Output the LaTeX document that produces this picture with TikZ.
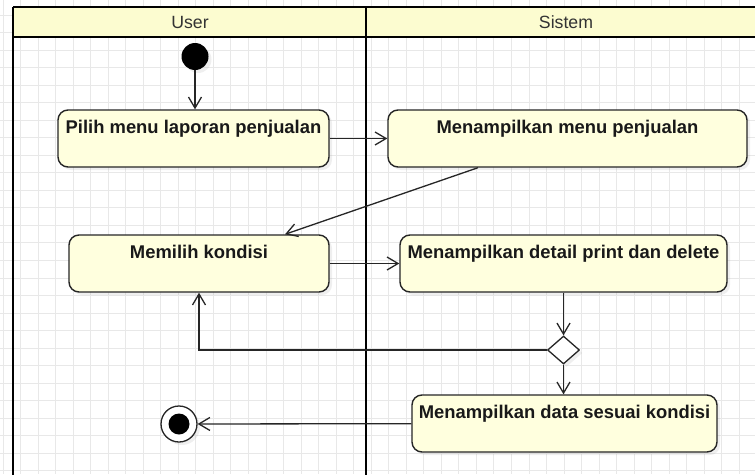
\documentclass[tikz,border=0pt]{standalone}
\usepackage{fontspec}
\setmainfont{Liberation Sans}
\usetikzlibrary{shapes.geometric,arrows.meta,shadows}
\definecolor{actfill}{RGB}{255,255,222}
\definecolor{lanefill}{RGB}{252,252,208}
\definecolor{lineclr}{RGB}{38,38,38}

\begin{document}
\begin{tikzpicture}[x=1pt, y=-1pt,
	gridline/.style={draw=black!9, line width=0.8pt},
	lane/.style={line width=2.8pt},
	lanetitle/.style={font=\fontsize{17.7}{20}\selectfont, text=black!80},
	act/.style={draw=lineclr, line width=1.4pt, fill=actfill, rounded corners=10pt, inner sep=0pt,
		text height=23.6pt, text depth=33.4pt, font=\fontsize{18.4}{20}\selectfont\bfseries, text=black!90,
		drop shadow={opacity=.12, shadow xshift=3pt, shadow yshift=-3pt}},
	flow/.style={draw=lineclr, line width=1.3pt, -{Straight Barb[length=11pt, width=13pt]}}]
	\path[use as bounding box, clip] (0,0) rectangle (755,474);
	\fill[white] (0,0) rectangle (755,474);
	\foreach \gx in {0,...,43} \draw[gridline] ({3+17.53*\gx},0) -- ({3+17.53*\gx},474);
	\foreach \gy in {0,...,27} \draw[gridline] (0,{15+17.53*\gy}) -- (755,{15+17.53*\gy});
	
	\fill[lanefill] (13,7) rectangle (770,37);
	\draw[lane] (13,7) -- (770,7);
	\draw[lane] (13,37) -- (770,37);
	\draw[lane] (13,7) -- (13,480);
	\draw[lane] (366,7) -- (366,480);
	\node[lanetitle] (user) at (190,22) {User};
	\node[lanetitle] (sistem) at (566,22) {Sistem};
	
	\node[circle, fill=black, minimum size=27pt, inner sep=0pt, drop shadow={opacity=.12, shadow xshift=3pt, shadow yshift=-3pt}] (start) at (195,56.5) {};
	\node[act, minimum width=271pt] (pilih) at (193.5,138.5) {Pilih menu laporan penjualan};
	\node[act, minimum width=359pt] (menu) at (567.5,138.5) {Menampilkan menu penjualan};
	\node[act, minimum width=260pt] (kondisi) at (199,263.5) {Memilih kondisi};
	\node[act, minimum width=327pt] (detail) at (563.5,263.5) {Menampilkan detail print dan delete};
	\node[diamond, draw=lineclr, line width=1.3pt, fill=white, minimum width=32pt, minimum height=28pt, inner sep=0pt, drop shadow={opacity=.12, shadow xshift=3pt, shadow yshift=-3pt}] (cek) at (563.5,350) {};
	\node[act, minimum width=305pt] (data) at (564.5,423.5) {Menampilkan data sesuai kondisi};
	\node[circle, draw=lineclr, line width=1.3pt, fill=white, minimum size=36pt, inner sep=0pt, drop shadow={opacity=.12, shadow xshift=3pt, shadow yshift=-3pt}] (end) at (179,424) {};
	\fill[black] (end.center) circle (10.5);
	
	\draw[flow] (start) -- (start |- pilih.north);
	\draw[flow] (pilih) -- (menu);
	\draw[flow] ([xshift=-89.5pt]menu.south) -- ([xshift=86pt]kondisi.north);
	\draw[flow] (kondisi) -- (detail);
	\draw[flow] (detail) -- (cek);
	\draw[flow] (cek.west) -| (kondisi.south);
	\draw[flow] (cek.south) -- (cek.south |- data.north);
	\draw[flow] (data) -- (end);
\end{tikzpicture}
\end{document}
